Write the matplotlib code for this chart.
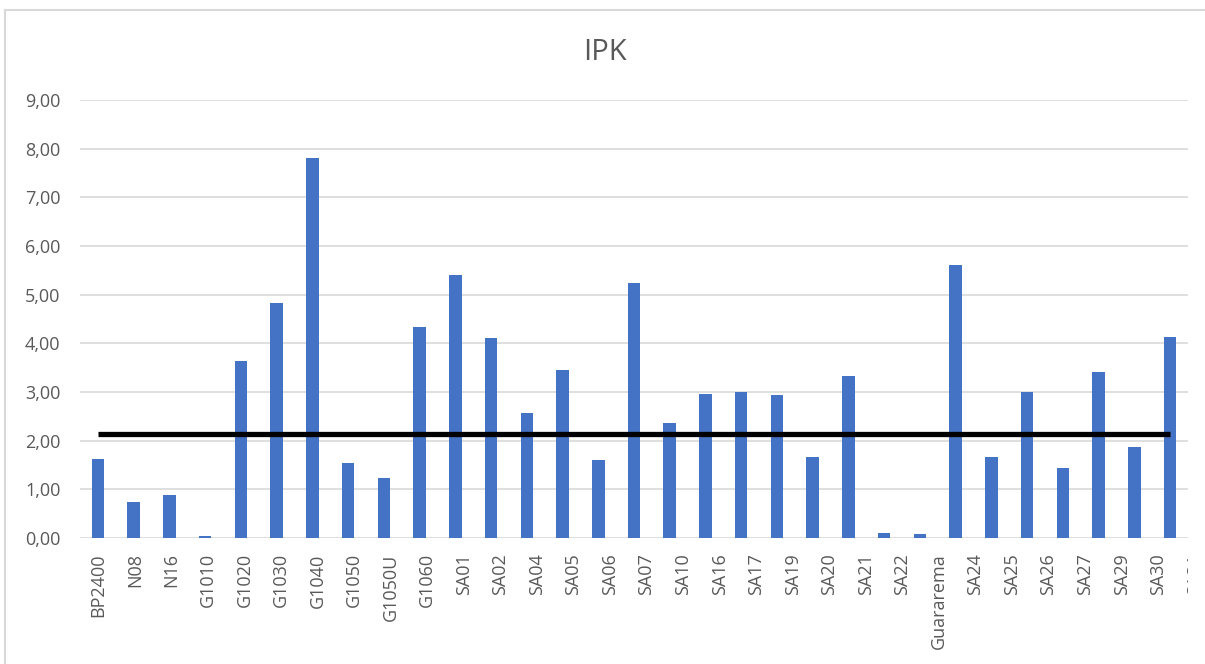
import matplotlib.pyplot as plt
from matplotlib.lines import Line2D
from matplotlib.ticker import FuncFormatter
from matplotlib.transforms import Bbox, TransformedBbox

plt.rcParams['font.family'] = ['Open Sans', 'DejaVu Sans']

estacoes = [
    "BP2400", "N08", "N16", "G1010", "G1020", "G1030", "G1040", "G1050",
    "G1050U", "G1060", "SA01", "SA02", "SA04", "SA05", "SA06", "SA07",
    "SA10", "SA16", "SA17", "SA19", "SA20", "SA21", "SA22", "Guararema",
    "SA24", "SA25", "SA26", "SA27", "SA29", "SA30", "SA31",
]
ipk = [
    1.63, 0.73, 0.88, 0.05, 3.63, 4.82, 7.80, 1.54,
    1.23, 4.33, 5.40, 4.10, 2.56, 3.46, 1.61, 5.25,
    2.37, 2.95, 3.01, 2.93, 1.67, 3.33, 0.11, 0.08,
    5.61, 1.67, 3.01, 1.43, 3.42, 1.88, 4.12,
]
referencia = 2.14

AZUL = "#4472C4"
CINZA_TXT = "#595959"
CINZA_LINHA = "#d9d9d9"

W, H = 1205, 664
fig = plt.figure(figsize=(W / 100, H / 100), dpi=100)
base, altura = 1 - 538 / H, (538 - 100) / H

# eixo só para os rótulos das categorias (mais largo que a área de plotagem)
ax_rot = fig.add_axes([80 / W, base, 1133 / W, altura])
ax_rot.set_frame_on(False)
ax_rot.patch.set_visible(False)
ax_rot.set_xlim(-0.5, len(estacoes) - 0.5)
ax_rot.set_xticks(range(len(estacoes)))
ax_rot.set_xticklabels(estacoes, rotation=90, va="top", ha="center")
ax_rot.set_yticks([])
ax_rot.tick_params(axis="x", length=0, colors=CINZA_TXT, labelsize=13, pad=11)
corte = TransformedBbox(Bbox([[0, 0], [1188 / W, 1]]), fig.transFigure)
for lbl in ax_rot.get_xticklabels():
    lbl.set_clip_box(corte)
    lbl.set_clip_on(True)

ax = fig.add_axes([80 / W, base, (1188 - 80) / W, altura])
ax.patch.set_visible(False)

x = list(range(len(ipk)))
ax.bar(x, ipk, width=0.35, color=AZUL, zorder=2)
ax.plot(x, [referencia] * len(x), color="black", linewidth=3.8,
        solid_capstyle="butt", zorder=3)

ax.set_xlim(-0.5, len(ipk) - 0.5)
ax.set_ylim(0, 9)
ax.set_yticks(range(0, 10))
ax.yaxis.set_major_formatter(FuncFormatter(lambda v, p: f"{v:.2f}".replace(".", ",")))
ax.set_xticks([])

ax.grid(axis="y", color=CINZA_LINHA, linewidth=1.2, zorder=0)
for s in ax.spines.values():
    s.set_visible(False)
ax.tick_params(axis="y", length=0, colors=CINZA_TXT, labelsize=13, pad=14)

fig.text(605 / W, 1 - 52 / H, "IPK", ha="center", va="center",
         fontsize=21, color=CINZA_TXT)

# moldura do gráfico (só as bordas esquerda e superior aparecem)
fig.add_artist(Line2D([5 / W, 5 / W], [0, 1 - 10 / H], transform=fig.transFigure,
                      color=CINZA_LINHA, linewidth=1.5))
fig.add_artist(Line2D([5 / W, 1], [1 - 10 / H, 1 - 10 / H], transform=fig.transFigure,
                      color=CINZA_LINHA, linewidth=1.5))

fig.savefig("out.png", dpi=100)
